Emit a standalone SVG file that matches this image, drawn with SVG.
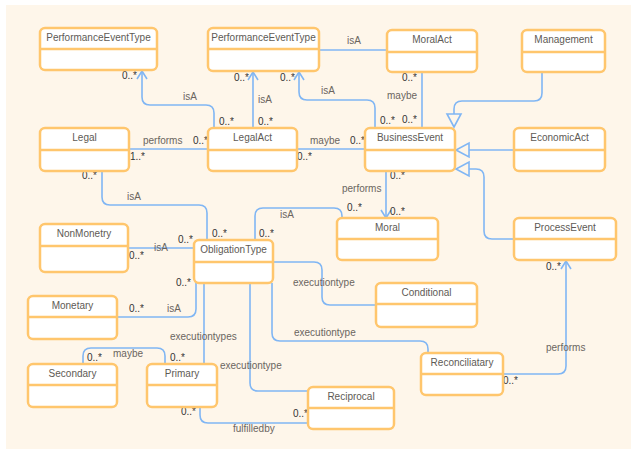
<svg xmlns="http://www.w3.org/2000/svg" width="631" height="449" viewBox="0 0 631 449">
<style>
.bg{fill:#fef6ea}
.box{fill:#ffffff;stroke:#ffc66d;stroke-width:2.5}
.div{stroke:#ffc66d;stroke-width:2.5}
.title{font-family:"Liberation Sans",Arial,sans-serif;font-size:10px;fill:#5e5a55;text-anchor:middle}
.edge{fill:none;stroke:#80b6f4;stroke-width:1.6}
.lbl{font-family:"Liberation Sans",Arial,sans-serif;font-size:10px;fill:#6a655f}
.mul{font-family:"Liberation Sans",Arial,sans-serif;font-size:10px;fill:#333333}
</style>
<defs>
<marker id="open" viewBox="-10 -7 12 14" refX="0" refY="0" markerWidth="12" markerHeight="14" markerUnits="userSpaceOnUse" orient="auto">
<path d="M-8,-5 L0,0 L-8,5" fill="none" stroke="#80b6f4" stroke-width="1.6"/>
</marker>
<marker id="tri" viewBox="-15 -9 17 18" refX="0" refY="0" markerWidth="17" markerHeight="18" markerUnits="userSpaceOnUse" orient="auto">
<path d="M0,0 L-13,-7 L-13,7 Z" fill="#fef6ea" stroke="#80b6f4" stroke-width="1.6"/>
</marker>
</defs>
<rect class="bg" x="6" y="5" width="625" height="444"/>
<g id="connectors">
<path class="edge" d="M214,128 V113 Q214,105 206,105 H150 Q142,105 142,97 V71" marker-end="url(#open)"/>
<path class="edge" d="M253,128 V72" marker-end="url(#open)"/>
<path class="edge" d="M375,128 V108 Q375,100 367,100 H307 Q299,100 299,92 V72" marker-end="url(#open)"/>
<path class="edge" d="M319,50 H387"/>
<path class="edge" d="M422,72 V128"/>
<path class="edge" d="M542,72 V93 Q542,101 534,101 H462 Q454,101 454,109 V127" marker-end="url(#tri)"/>
<path class="edge" d="M514,150 H456" marker-end="url(#tri)"/>
<path class="edge" d="M514,239 H492 Q484,239 484,231 V177 Q484,169 476,169 H456" marker-end="url(#tri)"/>
<path class="edge" d="M129,149 H208"/>
<path class="edge" d="M297,149 H365"/>
<path class="edge" d="M386,171 V218" marker-end="url(#open)"/>
<path class="edge" d="M102,171 V197 Q102,205 110,205 H199 Q207,205 207,213 V240"/>
<path class="edge" d="M255,240 V216 Q255,208 263,208 H334 Q342,208 342,216 V218"/>
<path class="edge" d="M128,248 H194"/>
<path class="edge" d="M117,317 H188 Q196,317 196,309 V283"/>
<path class="edge" d="M273,262 H314 Q322,262 322,270 V297 Q322,305 330,305 H376"/>
<path class="edge" d="M272,283 V333 Q272,341 280,341 H420 Q428,341 428,349 V353"/>
<path class="edge" d="M250,283 V383 Q250,391 258,391 H308"/>
<path class="edge" d="M204,283 V364"/>
<path class="edge" d="M83,364 V356 Q83,348 91,348 H157 Q165,348 165,356 V364"/>
<path class="edge" d="M200,407 V415 Q200,423 208,423 H308"/>
<path class="edge" d="M503,374 H558 Q566,374 566,366 V261" marker-end="url(#open)"/>
<text class="lbl" x="183" y="99.5">isA</text>
<text class="mul" x="137" y="79" text-anchor="end">0..*</text>
<text class="mul" x="219" y="124.5">0..*</text>
<text class="lbl" x="258" y="103">isA</text>
<text class="mul" x="249" y="81" text-anchor="end">0..*</text>
<text class="mul" x="258" y="124.5">0..*</text>
<text class="lbl" x="321" y="94">isA</text>
<text class="mul" x="295" y="81" text-anchor="end">0..*</text>
<text class="mul" x="380" y="124">0..*</text>
<text class="lbl" x="347" y="43.5">isA</text>
<text class="mul" x="417" y="81" text-anchor="end">0..*</text>
<text class="lbl" x="387" y="99">maybe</text>
<text class="mul" x="417" y="123" text-anchor="end">0..*</text>
<text class="lbl" x="143" y="143.5">performs</text>
<text class="mul" x="208" y="143.5" text-anchor="end">0..*</text>
<text class="mul" x="130" y="159.5">1..*</text>
<text class="lbl" x="310" y="143.5">maybe</text>
<text class="mul" x="297" y="159.5">0..*</text>
<text class="mul" x="365" y="143.5" text-anchor="end">0..*</text>
<text class="mul" x="390" y="178.5">0..*</text>
<text class="lbl" x="342" y="191.5">performs</text>
<text class="mul" x="390" y="214.5">0..*</text>
<text class="mul" x="97" y="178.5" text-anchor="end">0..*</text>
<text class="lbl" x="127" y="199.5">isA</text>
<text class="mul" x="212" y="236.5">0..*</text>
<text class="lbl" x="280" y="217.5">isA</text>
<text class="mul" x="259" y="236.5">0..*</text>
<text class="mul" x="362" y="210.5" text-anchor="end">0..*</text>
<text class="lbl" x="154" y="250.5">isA</text>
<text class="mul" x="193" y="242.5" text-anchor="end">0..*</text>
<text class="mul" x="129" y="258.5">0..*</text>
<text class="mul" x="191" y="285.5" text-anchor="end">0..*</text>
<text class="mul" x="129" y="311.5">0..*</text>
<text class="lbl" x="167" y="311.5">isA</text>
<text class="lbl" x="293" y="285.5">executiontype</text>
<text class="lbl" x="294" y="335.5">executiontype</text>
<text class="lbl" x="220" y="368.5">executiontype</text>
<text class="lbl" x="170" y="339.5">executiontypes</text>
<text class="mul" x="87" y="360.5">0..*</text>
<text class="lbl" x="113" y="357">maybe</text>
<text class="mul" x="170" y="360.5">0..*</text>
<text class="mul" x="196" y="414.5" text-anchor="end">0..*</text>
<text class="lbl" x="233" y="432">fulfilledby</text>
<text class="mul" x="308" y="416.5" text-anchor="end">0..*</text>
<text class="lbl" x="546" y="350.5">performs</text>
<text class="mul" x="503" y="383.5">0..*</text>
<text class="mul" x="561" y="269.5" text-anchor="end">0..*</text>
</g>
<g id="pet1"><rect class="box" x="40" y="28" width="117" height="42" rx="5"/><line class="div" x1="40" y1="49" x2="157" y2="49"/><text class="title" x="98.5" y="41">PerformanceEventType</text></g>
<g id="pet2"><rect class="box" x="208" y="28" width="111" height="43" rx="5"/><line class="div" x1="208" y1="49" x2="319" y2="49"/><text class="title" x="263.5" y="41">PerformanceEventType</text></g>
<g id="moralact"><rect class="box" x="387" y="30" width="90" height="42" rx="5"/><line class="div" x1="387" y1="52" x2="477" y2="52"/><text class="title" x="432" y="43">MoralAct</text></g>
<g id="management"><rect class="box" x="522" y="30" width="83" height="42" rx="5"/><line class="div" x1="522" y1="52" x2="605" y2="52"/><text class="title" x="563.5" y="43">Management</text></g>
<g id="legal"><rect class="box" x="40" y="128" width="89" height="43" rx="5"/><line class="div" x1="40" y1="150" x2="129" y2="150"/><text class="title" x="84.5" y="141">Legal</text></g>
<g id="legalact"><rect class="box" x="208" y="128" width="89" height="43" rx="5"/><line class="div" x1="208" y1="150" x2="297" y2="150"/><text class="title" x="252.5" y="141">LegalAct</text></g>
<g id="businessevent"><rect class="box" x="365" y="128" width="90" height="43" rx="5"/><line class="div" x1="365" y1="150" x2="455" y2="150"/><text class="title" x="410" y="141">BusinessEvent</text></g>
<g id="economicact"><rect class="box" x="514" y="128" width="91" height="43" rx="5"/><line class="div" x1="514" y1="150" x2="605" y2="150"/><text class="title" x="559.5" y="141">EconomicAct</text></g>
<g id="nonmonetry"><rect class="box" x="40" y="224" width="88" height="48" rx="5"/><line class="div" x1="40" y1="246" x2="128" y2="246"/><text class="title" x="84" y="237">NonMonetry</text></g>
<g id="obligationtype"><rect class="box" x="194" y="240" width="79" height="43" rx="5"/><line class="div" x1="194" y1="262" x2="273" y2="262"/><text class="title" x="233.5" y="253">ObligationType</text></g>
<g id="moral"><rect class="box" x="337" y="218" width="101" height="42" rx="5"/><line class="div" x1="337" y1="239" x2="438" y2="239"/><text class="title" x="387.5" y="231">Moral</text></g>
<g id="processevent"><rect class="box" x="514" y="218" width="102" height="42" rx="5"/><line class="div" x1="514" y1="239" x2="616" y2="239"/><text class="title" x="565" y="231">ProcessEvent</text></g>
<g id="conditional"><rect class="box" x="376" y="283" width="101" height="44" rx="5"/><line class="div" x1="376" y1="304" x2="477" y2="304"/><text class="title" x="426.5" y="296">Conditional</text></g>
<g id="monetary"><rect class="box" x="28" y="296" width="89" height="43" rx="5"/><line class="div" x1="28" y1="317" x2="117" y2="317"/><text class="title" x="72.5" y="309">Monetary</text></g>
<g id="secondary"><rect class="box" x="28" y="364" width="89" height="43" rx="5"/><line class="div" x1="28" y1="385" x2="117" y2="385"/><text class="title" x="72.5" y="377">Secondary</text></g>
<g id="primary"><rect class="box" x="147" y="364" width="70" height="43" rx="5"/><line class="div" x1="147" y1="385" x2="217" y2="385"/><text class="title" x="182" y="377">Primary</text></g>
<g id="reconciliatary"><rect class="box" x="421" y="353" width="82" height="42" rx="5"/><line class="div" x1="421" y1="374" x2="503" y2="374"/><text class="title" x="462" y="366">Reconciliatary</text></g>
<g id="reciprocal"><rect class="box" x="308" y="387" width="86" height="42" rx="5"/><line class="div" x1="308" y1="408" x2="394" y2="408"/><text class="title" x="351" y="400">Reciprocal</text></g>
</svg>
